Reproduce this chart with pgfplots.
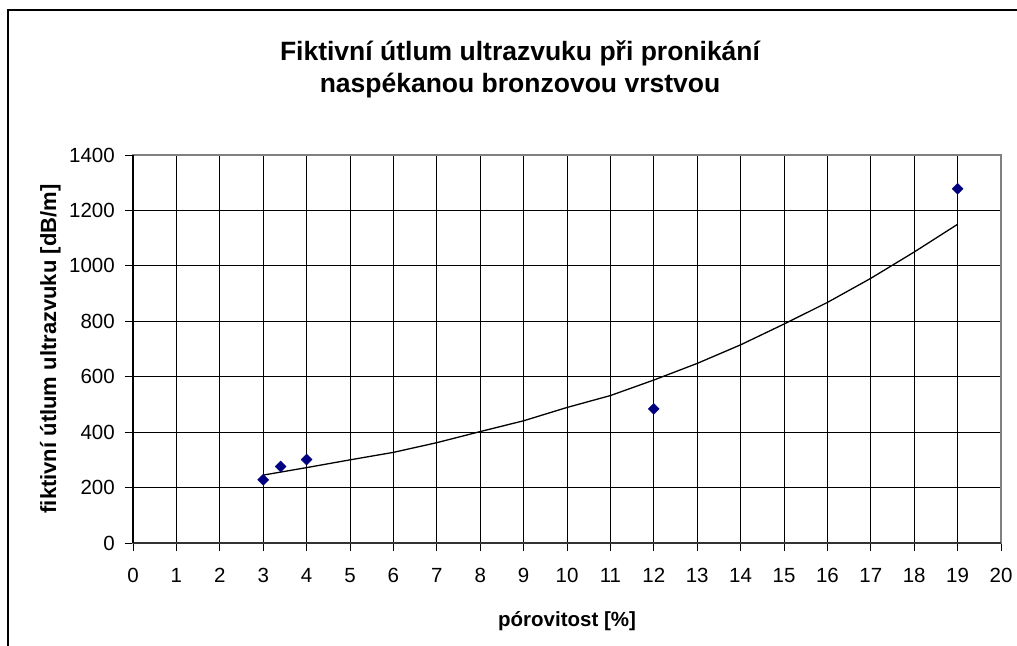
\documentclass[border=0pt]{standalone}
\usepackage{fontspec}
\setmainfont{Liberation Sans}
\usepackage{pgfplots}
\pgfplotsset{compat=1.18}
\definecolor{navyd}{HTML}{000080}
\begin{document}
\begin{tikzpicture}
\draw[line width=1.3pt, black] (8pt,-10pt) -- (8pt,635pt) -- (1030pt,635pt);
\node[font=\fontsize{26.5}{32}\selectfont\bfseries, anchor=base] at (520pt,584pt) {Fiktivní útlum ultrazvuku při pronikání};
\node[font=\fontsize{26.5}{32}\selectfont\bfseries, anchor=base] at (520pt,552pt) {naspékanou bronzovou vrstvou};
\node[font=\fontsize{20.5}{24}\selectfont\bfseries, anchor=base] at (567pt,19pt) {pórovitost [\%]};
\node[font=\fontsize{22}{26}\selectfont\bfseries, anchor=base, rotate=90] at (56pt,296pt) {fiktivní útlum ultrazvuku [dB/m]};
\begin{axis}[
  at={(133pt,102pt)}, anchor=south west,
  scale only axis, width=868pt, height=388pt,
  xmin=0, xmax=20, ymin=0, ymax=1400,
  xtick={0,1,...,20}, ytick={0,200,...,1400},
  grid=major, major grid style={black, line width=0.9pt},
  axis line style={draw=gray, line width=1.5pt},
  tick align=outside, major tick length=8pt,
  tick style={black, line width=0.9pt},
  xtick pos=bottom, ytick pos=left,
  ticklabel style={font=\fontsize{20.5}{24}\selectfont, inner sep=0pt},
  xticklabel shift=17pt, yticklabel shift=10pt,
  /pgf/number format/assume math mode=true,
  /pgf/number format/1000 sep={},
  clip=false,
]
\addplot[black, line width=1.3pt, no marks] coordinates {
 (3,245) (4,272) (5,300) (6,327) (7,362) (8,402) (9,441) (10,489) (11,532)
 (12,588) (13,648) (14,715) (15,790) (16,868) (17,955) (18,1050) (19,1150)
};
\addplot[only marks, mark=square*, mark size=3.9pt, mark options={rotate=45, fill=navyd, draw=navyd}] coordinates {
 (3,228) (3.4,276) (4,301) (12,484) (19,1278)
};
\draw[line width=1.5pt, black!80] (rel axis cs:0,0) -- (rel axis cs:1,0);
\draw[line width=1.2pt, black] (rel axis cs:0,0) -- (rel axis cs:0,1);
\end{axis}
\pgfresetboundingbox
\path[use as bounding box] (0,0) rectangle (1017pt,645pt);
\end{tikzpicture}
\end{document}
